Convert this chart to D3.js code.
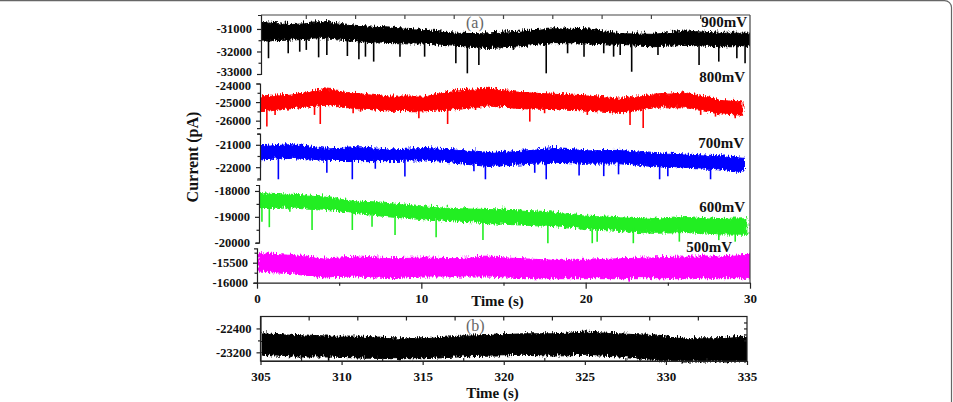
<!DOCTYPE html>
<html lang="en">
<head>
<meta charset="UTF-8">
<title>Current traces at different voltages</title>
<script src="https://d3js.org/d3.v7.min.js"></script>
<style>
  body { margin: 0; background: #fff; }
  text { font-family: "Liberation Serif", "Times New Roman", serif; }
</style>
</head>
<body>
<svg width="953" height="402" id="chart"></svg>
<script>
// ---- data ----
const voltages = ["900mV", "800mV", "700mV", "600mV", "500mV"];
const colors = ["#000000", "#ff0000", "#0000ff", "#22ee22", "#ff00ff"];

// time samples (s) for the noise band envelopes of panel (a)
const secA = [0, 2, 4, 6, 8, 10, 12, 14, 16, 18, 20, 22, 24, 26, 28];
const endA = [30, 29.45, 29.6, 29.75, 30]; // where each trace stops

// upper / lower edge of each noise band (pA)
const hi900 = [-30620, -30720, -30620, -30800, -30870, -30980, -31100, -31130, -31050, -30900, -30950, -31120, -31150, -31000, -31100, -31100];
const lo900 = [-31460, -31400, -31340, -31480, -31560, -31580, -31680, -31780, -31700, -31560, -31580, -31640, -31700, -31640, -31700, -31700];
const hi800 = [-24620, -24520, -24230, -24440, -24620, -24620, -24300, -24200, -24380, -24470, -24560, -24740, -24520, -24400, -24800, -24890];
const lo800 = [-25425, -25250, -25064, -25247, -25380, -25425, -25300, -25100, -25247, -25300, -25380, -25500, -25200, -25200, -25520, -25600];
const hi700 = [-21000, -20900, -21100, -21040, -21145, -21075, -21145, -21300, -21200, -21075, -21180, -21160, -21295, -21370, -21441, -21515];
const lo700 = [-21586, -21515, -21650, -21661, -21661, -21620, -21736, -21881, -21806, -21736, -21780, -21760, -21881, -21956, -22026, -22176];
const hi600 = [-18027, -18089, -18155, -18348, -18414, -18542, -18607, -18640, -18700, -18780, -18900, -18960, -19020, -18950, -19030, -18994];
const lo600 = [-18607, -18580, -18669, -18801, -18929, -19030, -19122, -19187, -19240, -19300, -19420, -19490, -19560, -19530, -19620, -19636];
const hi500 = [-15225, -15265, -15360, -15308, -15350, -15333, -15350, -15308, -15350, -15390, -15390, -15350, -15330, -15308, -15308, -15265];
const lo500 = [-15683, -15725, -15830, -15808, -15850, -15808, -15808, -15808, -15850, -15850, -15850, -15850, -15850, -15850, -15850, -15850];

// blockade spikes: [time (s), deepest current (pA)]
const sp900 = [[0.7, -32300], [1.9, -32080], [2.6, -32010], [3.0, -31930], [3.75, -32260], [4.25, -32160], [5.5, -32200], [6.2, -32350], [6.6, -32230], [7.1, -32450], [8.7, -32230], [10.2, -32230], [12.1, -32520], [12.8, -32970], [13.5, -32600], [15.6, -31930], [17.6, -32970], [18.9, -32080], [19.9, -32230], [21.1, -32080], [21.7, -32230], [22.1, -32160], [22.8, -32900], [24.4, -32160], [26.9, -32600], [28.1, -32450], [29.2, -32300], [29.7, -32520]];
const sp800 = [[0.6, -26320], [1.1, -25690], [3.5, -25690], [3.85, -26180], [5.85, -25600], [6.3, -25520], [9.85, -25870], [11.6, -26180], [13.3, -25425], [16.6, -26050], [17.5, -25600], [20.1, -25690], [22.7, -26230], [23.5, -26400], [27.0, -25690], [27.9, -25780], [29.1, -25870]];
const sp700 = [[0.2, -22030], [1.3, -22540], [4.25, -22250], [5.8, -22540], [7.2, -22070], [9.0, -22420], [13.2, -22180], [13.9, -22540], [16.9, -22250], [17.6, -22540], [19.6, -22370], [21.1, -22400], [22.0, -22320], [24.5, -22540], [25.0, -22400], [27.6, -22540]];
const sp600 = [[0.3, -19190], [0.75, -19400], [2.0, -18800], [3.35, -19510], [5.8, -19510], [7.0, -19380], [8.4, -19700], [10.9, -19790], [13.75, -19900], [17.7, -20020], [20.4, -20020], [20.7, -19960], [22.9, -20020], [25.7, -19960], [28.1, -19900], [29.1, -19960]];
const sp500 = [[22.65, -15975]];

// axis limits and ticks of each stacked segment
const yDomains = [[-33000, -30380], [-26400, -24000], [-22550, -20500], [-20000, -17770], [-16000, -15140]];
const yMajor = [[-31000, -32000, -33000], [-24000, -25000, -26000], [-21000, -22000], [-18000, -19000, -20000], [-15500, -16000]];
const yMinor = [[-31500, -32500], [-24500, -25500], [-20500, -21500, -22500], [-18500, -19500], [-15250, -15750]];
const xMajorA = [0, 10, 20, 30];
const xMinorA = [5, 15, 25];

// panel (b): 305-335 s at 800 mV
const secB = [305, 307, 309, 311, 313, 315, 317, 319, 321, 323, 325, 327, 329, 331, 333, 335];
const hiB = [-22513, -22567, -22623, -22623, -22680, -22680, -22600, -22567, -22513, -22513, -22457, -22513, -22567, -22680, -22680, -22623];
const loB = [-23233, -23289, -23289, -23322, -23346, -23346, -23289, -23260, -23233, -23256, -23233, -23289, -23399, -23456, -23456, -23456];
const spB = [[309.2, -23480], [313.6, -23470]];
const yDomainB = [-23490, -22000];
const yMajorB = [-22400, -23200];
const xMajorB = [305, 310, 315, 320, 325, 330, 335];

const his = [hi900, hi800, hi700, hi600, hi500];
const los = [lo900, lo800, lo700, lo600, lo500];
const spikes = [sp900, sp800, sp700, sp600, sp500];

// ---- layout ----
const svg = d3.select("#chart");
const axisColor = "#222";
const segAxisX = [261, 260, 260, 259, 257];
const segRange = [[74, 15], [128.1, 83.5], [179.5, 133.6], [242.7, 185], [282.7, 248.3]];
const labelPos = [[747, 27], [745, 82], [744, 148], [745, 212], [732, 252]];
const xA = d3.scaleLinear().domain([0, 30]).range([257, 750]);
const frameTopA = 15, rightA = 750, bottomA = 282.7;
const plain = d => String(d); // hyphen minus, no thousands separator

// page border (rounded at the top right)
svg.append("rect")
    .attr("x", -12).attr("y", 0.6)
    .attr("width", 963.5).attr("height", 500)
    .attr("rx", 7)
    .attr("fill", "none")
    .attr("stroke", "#666")
    .attr("stroke-width", 1.2);

const defs = svg.append("defs");
// roughen the band edges so they read like a dense noisy trace
const rough = defs.append("filter").attr("id", "rough")
    .attr("x", "-2%").attr("y", "-30%").attr("width", "104%").attr("height", "160%");
rough.append("feTurbulence")
    .attr("type", "turbulence").attr("baseFrequency", "0.9 0.12")
    .attr("numOctaves", 2).attr("seed", 4).attr("result", "n");
rough.append("feDisplacementMap")
    .attr("in", "SourceGraphic").attr("in2", "n").attr("scale", 6)
    .attr("xChannelSelector", "R").attr("yChannelSelector", "G");

function styleAxis(g, size) {
    g.selectAll("path, line").attr("stroke", axisColor).attr("stroke-width", 1.2);
    g.selectAll("text")
        .attr("fill", "#111")
        .attr("font-family", "Liberation Serif, serif")
        .attr("font-weight", "bold")
        .attr("font-size", size);
}

voltages.forEach((v, i) => {
    const times = secA.concat([endA[i]]);
    const y = d3.scaleLinear().domain(yDomains[i]).range(segRange[i]);
    const rows = times.map((t, k) => ({ t: t, hi: his[i][k], lo: los[i][k] }));
    const loAt = d3.scaleLinear().domain(times).range(los[i]);

    defs.append("clipPath").attr("id", "clip" + i)
        .append("rect")
        .attr("x", segAxisX[i]).attr("y", 0)
        .attr("width", rightA - segAxisX[i]).attr("height", 300);

    const g = svg.append("g").attr("clip-path", `url(#clip${i})`);

    g.append("path")
        .datum(rows)
        .attr("d", d3.area().x(d => xA(d.t)).y0(d => y(d.lo)).y1(d => y(d.hi)))
        .attr("fill", colors[i])
        .attr("stroke", colors[i])
        .attr("stroke-width", 1)
        .attr("filter", "url(#rough)");

    g.selectAll("line.spike")
        .data(spikes[i])
        .enter().append("line")
        .attr("class", "spike")
        .attr("x1", d => xA(d[0])).attr("x2", d => xA(d[0]))
        .attr("y1", d => y(loAt(d[0])) - 3)
        .attr("y2", d => y(d[1]))
        .attr("stroke", colors[i])
        .attr("stroke-width", 1.6);

    // left axis segment
    const ax = svg.append("g").attr("transform", `translate(${segAxisX[i]},0)`)
        .call(d3.axisLeft(y).tickValues(yMajor[i]).tickSize(4).tickSizeOuter(3).tickPadding(5).tickFormat(plain));
    styleAxis(ax, 12.5);
    const axm = svg.append("g").attr("transform", `translate(${segAxisX[i]},0)`)
        .call(d3.axisLeft(y).tickValues(yMinor[i]).tickSize(2.5).tickFormat(""));
    axm.select(".domain").remove();
    styleAxis(axm, 12.5);

    svg.append("text")
        .attr("x", labelPos[i][0]).attr("y", labelPos[i][1])
        .attr("text-anchor", "end")
        .attr("font-weight", "bold")
        .attr("font-size", 15)
        .attr("fill", "#111")
        .text(v);
});

// the two labels where the 900 mV and 800 mV axes meet sit tight; nudge apart
svg.selectAll("g.tick text")
    .filter(d => d === -33000).attr("dy", "0.1em");
svg.selectAll("g.tick text")
    .filter(d => d === -24000).attr("dy", "0.5em");

// panel (a) frame: top with 3 s ticks, right side
svg.append("line")
    .attr("x1", segAxisX[0]).attr("x2", rightA)
    .attr("y1", frameTopA).attr("y2", frameTopA)
    .attr("stroke", "#444").attr("stroke-width", 1.2);
svg.append("line")
    .attr("x1", rightA).attr("x2", rightA)
    .attr("y1", frameTopA).attr("y2", bottomA)
    .attr("stroke", "#444").attr("stroke-width", 1.2);
svg.selectAll("line.topTickA")
    .data(d3.range(3, 30, 3))
    .enter().append("line")
    .attr("class", "topTickA")
    .attr("x1", d => xA(d)).attr("x2", d => xA(d))
    .attr("y1", frameTopA).attr("y2", frameTopA + 4)
    .attr("stroke", "#444").attr("stroke-width", 1.2);

const axA = svg.append("g").attr("transform", `translate(0,${bottomA})`)
    .call(d3.axisBottom(xA).tickValues(xMajorA).tickSize(6).tickSizeOuter(0).tickPadding(5).tickFormat(plain));
styleAxis(axA, 13);
const axAm = svg.append("g").attr("transform", `translate(0,${bottomA})`)
    .call(d3.axisBottom(xA).tickValues(xMinorA).tickSize(3).tickFormat(""));
axAm.select(".domain").remove();
styleAxis(axAm, 13);

svg.append("text")
    .attr("x", 497.5).attr("y", 305.5)
    .attr("text-anchor", "middle")
    .attr("font-weight", "bold").attr("font-size", 15).attr("fill", "#111")
    .text("Time (s)");

svg.append("text")
    .attr("transform", "translate(198,157) rotate(-90)")
    .attr("text-anchor", "middle")
    .attr("font-weight", "bold").attr("font-size", 16).attr("fill", "#111")
    .text("Current (pA)");

svg.append("text")
    .attr("x", 466).attr("y", 28)
    .attr("font-size", 16).attr("fill", "#666")
    .text("(a)");

// ---- panel (b) ----
const xB = d3.scaleLinear().domain([305, 335]).range([260.5, 747]);
const yB = d3.scaleLinear().domain(yDomainB).range([361, 316.5]);
const rowsB = secB.map((t, k) => ({ t: t, hi: hiB[k], lo: loB[k] }));
const loAtB = d3.scaleLinear().domain(secB).range(loB);

defs.append("clipPath").attr("id", "clipB")
    .append("rect")
    .attr("x", xB.range()[0]).attr("y", 300)
    .attr("width", xB.range()[1] - xB.range()[0]).attr("height", 70);

const gB = svg.append("g").attr("clip-path", "url(#clipB)");
gB.append("path")
    .datum(rowsB)
    .attr("d", d3.area().x(d => xB(d.t)).y0(d => yB(d.lo)).y1(d => yB(d.hi)))
    .attr("fill", "#000").attr("stroke", "#000").attr("stroke-width", 1)
    .attr("filter", "url(#rough)");
gB.selectAll("line.spikeB")
    .data(spB)
    .enter().append("line")
    .attr("class", "spikeB")
    .attr("x1", d => xB(d[0])).attr("x2", d => xB(d[0]))
    .attr("y1", d => yB(loAtB(d[0])) - 3).attr("y2", d => yB(d[1]))
    .attr("stroke", "#000").attr("stroke-width", 1.6);

svg.append("rect")
    .attr("x", xB.range()[0]).attr("y", yB.range()[1])
    .attr("width", xB.range()[1] - xB.range()[0])
    .attr("height", yB.range()[0] - yB.range()[1])
    .attr("fill", "none").attr("stroke", axisColor).attr("stroke-width", 1.2);

const axBy = svg.append("g").attr("transform", `translate(${xB.range()[0]},0)`)
    .call(d3.axisLeft(yB).tickValues(yMajorB).tickSize(4).tickSizeOuter(0).tickPadding(5).tickFormat(plain));
styleAxis(axBy, 12.5);
svg.append("g").attr("transform", `translate(${xB.range()[0]},0)`)
    .call(d3.axisLeft(yB).tickValues([-22800]).tickSize(2.5).tickFormat(""))
    .call(g => g.select(".domain").remove())
    .call(g => styleAxis(g, 12.5));
// right-side inward ticks every 200 pA
svg.append("g").attr("transform", `translate(${xB.range()[1]},0)`)
    .call(d3.axisLeft(yB).tickValues(d3.range(-22200, -22900, -200)).tickSize(3).tickFormat(""))
    .call(g => g.select(".domain").remove())
    .call(g => styleAxis(g, 12.5));
// top inward ticks every 3 s
svg.selectAll("line.topTickB")
    .data(d3.range(308, 335, 3))
    .enter().append("line")
    .attr("class", "topTickB")
    .attr("x1", d => xB(d)).attr("x2", d => xB(d))
    .attr("y1", yB.range()[1]).attr("y2", yB.range()[1] + 4)
    .attr("stroke", axisColor).attr("stroke-width", 1.2);

const axBx = svg.append("g").attr("transform", `translate(0,${yB.range()[0]})`)
    .call(d3.axisBottom(xB).tickValues(xMajorB).tickSize(4).tickSizeOuter(0).tickPadding(7).tickFormat(plain));
styleAxis(axBx, 13);
svg.append("g").attr("transform", `translate(0,${yB.range()[0]})`)
    .call(d3.axisTop(xB).tickValues(d3.range(307.5, 335, 5)).tickSize(3).tickFormat(""))
    .call(g => g.select(".domain").remove())
    .call(g => styleAxis(g, 13));

svg.append("text")
    .attr("x", 492.5).attr("y", 398)
    .attr("text-anchor", "middle")
    .attr("font-weight", "bold").attr("font-size", 15).attr("fill", "#111")
    .text("Time (s)");

svg.append("text")
    .attr("x", 466).attr("y", 331)
    .attr("font-size", 16).attr("fill", "#666")
    .text("(b)");
</script>
</body>
</html>
